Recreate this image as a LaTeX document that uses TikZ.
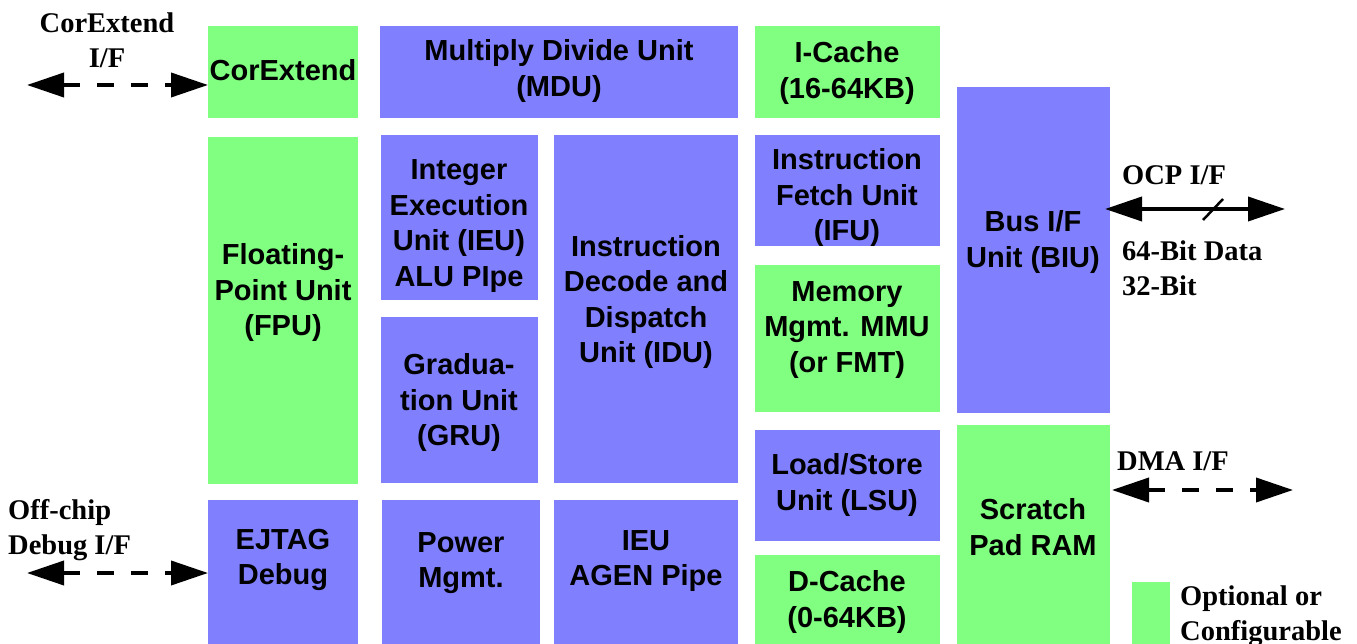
\documentclass[tikz,border=0pt]{standalone}
\usepackage{fontspec}
\setmainfont{Liberation Serif}
\setsansfont{Liberation Sans}
\usetikzlibrary{arrows.meta}
\definecolor{optgreen}{HTML}{80FF80}
\definecolor{coreblue}{HTML}{8080FF}
\newcommand\blk[6]{%
  \node[#2, minimum width={(#5)-(#3)}, minimum height={(#6)-(#4)}] (#1) at ({((#3)+(#5))/2},{((#4)+(#6))/2}) {};}
\tikzset{
  box/.style={inner sep=0pt, outer sep=0pt, draw=none, rectangle},
  gbox/.style={box, fill=optgreen},
  bbox/.style={box, fill=coreblue},
  btxt/.style={align=center, inner sep=0pt, yshift=-3pt, font=\sffamily\bfseries\fontsize{29}{35.5}\selectfont},
  lbl/.style={inner sep=0pt, yshift=-2pt, font=\rmfamily\bfseries\fontsize{28.5}{35}\selectfont},
  ifarrow/.style={line width=3.8pt, {Triangle[length=37pt,width=24pt]}-{Triangle[length=37pt,width=24pt]}},
  dashedif/.style={ifarrow, dash pattern=on 17pt off 17pt},
}
\begin{document}
\begin{tikzpicture}[x=1pt,y=-1pt]
\useasboundingbox (0,0) rectangle (1357,644);
% blocks
\blk{ce}{gbox}{208}{26}{358}{118}
\blk{mdu}{bbox}{380}{26}{738}{118}
\blk{ic}{gbox}{755}{26}{940}{118}
\blk{fpu}{gbox}{208}{137}{358}{484}
\blk{ieu}{bbox}{381}{135}{538}{300}
\blk{gru}{bbox}{381}{317}{538}{483}
\blk{idu}{bbox}{554}{135}{738}{483}
\blk{ifu}{bbox}{755}{135}{940}{246}
\blk{mmu}{gbox}{755}{265}{940}{412}
\blk{lsu}{bbox}{755}{430}{940}{541}
\blk{dc}{gbox}{755}{555}{940}{644}
\blk{biu}{bbox}{957}{87}{1110}{413}
\blk{sp}{gbox}{957}{425}{1110}{644}
\blk{ej}{bbox}{208}{500}{358}{644}
\blk{pm}{bbox}{382}{500}{540}{644}
\blk{ag}{bbox}{554}{500}{738}{644}
\blk{leg}{gbox}{1132}{582}{1170}{644}
% block texts
\node[btxt] (ceT) at (283,67) {CorExtend};
\node[btxt] (mduT) at (559,68) {Multiply Divide Unit\\(MDU)};
\node[btxt] (icT) at (847,70) {I-Cache\\(16-64KB)};
\node[btxt] (fpuT) at (283,290) {Floating-\\Point Unit\\(FPU)};
\node[btxt] (ieuT) at (459,223) {Integer\\Execution\\Unit (IEU)\\ALU PIpe};
\node[btxt] (gruT) at (459,400) {Gradua-\\tion Unit\\(GRU)};
\node[btxt] (iduT) at (646,299) {Instruction\\Decode and\\Dispatch\\Unit (IDU)};
\node[btxt] (ifuT) at (847,195) {Instruction\\Fetch Unit\\(IFU)};
\node[btxt] (mmuT) at (847,327) {Memory\\Mgmt. MMU\\(or FMT)};
\node[btxt] (lsuT) at (847,482) {Load/Store\\Unit (LSU)};
\node[btxt] (dcT) at (847,599) {D-Cache\\(0-64KB)};
\node[btxt] (biuT) at (1033,239) {Bus I/F\\Unit (BIU)};
\node[btxt] (spT) at (1033,524) {Scratch\\Pad RAM};
\node[btxt] (ejT) at (283,557) {EJTAG\\Debug};
\node[btxt] (pmT) at (461,560) {Power\\Mgmt.};
\node[btxt] (agT) at (646,558) {IEU\\AGEN Pipe};
% interface labels
\node[lbl, align=center] (ceL) at (107,38) {CorExtend\\I/F};
\node[lbl, align=left, anchor=west] (dbgL) at (8,528) {Off-chip\\Debug I/F};
\node[lbl, anchor=west] (ocpL) at (1122,173) {OCP I/F};
\node[lbl, align=left, anchor=west] (bitL) at (1122,266) {64-Bit Data\\32-Bit};
\node[lbl, anchor=west] (dmaL) at (1117,459) {DMA I/F};
\node[lbl, align=left, anchor=west] (legL) at (1180,614) {Optional or\\Configurable};
% arrow ends
\coordinate (ceEnd) at (27,85);
\coordinate (dbgEnd) at (27,573);
\coordinate (ocpEnd) at (1285,209);
\coordinate (dmaEnd) at (1293,490);
\coordinate (slashA) at (1203,220);
\coordinate (slashB) at (1223,199);
% arrows
\draw[dashedif] (ceEnd) -- (ce.west |- ceEnd);
\draw[dashedif] (dbgEnd) -- (ej.west |- dbgEnd);
\draw[ifarrow] ([xshift=-5pt]biu.east |- ocpEnd) -- (ocpEnd);
\draw[line width=2.5pt] (slashA) -- (slashB);
\draw[dashedif] ([xshift=2pt]sp.east |- dmaEnd) -- (dmaEnd);
\end{tikzpicture}
\end{document}
